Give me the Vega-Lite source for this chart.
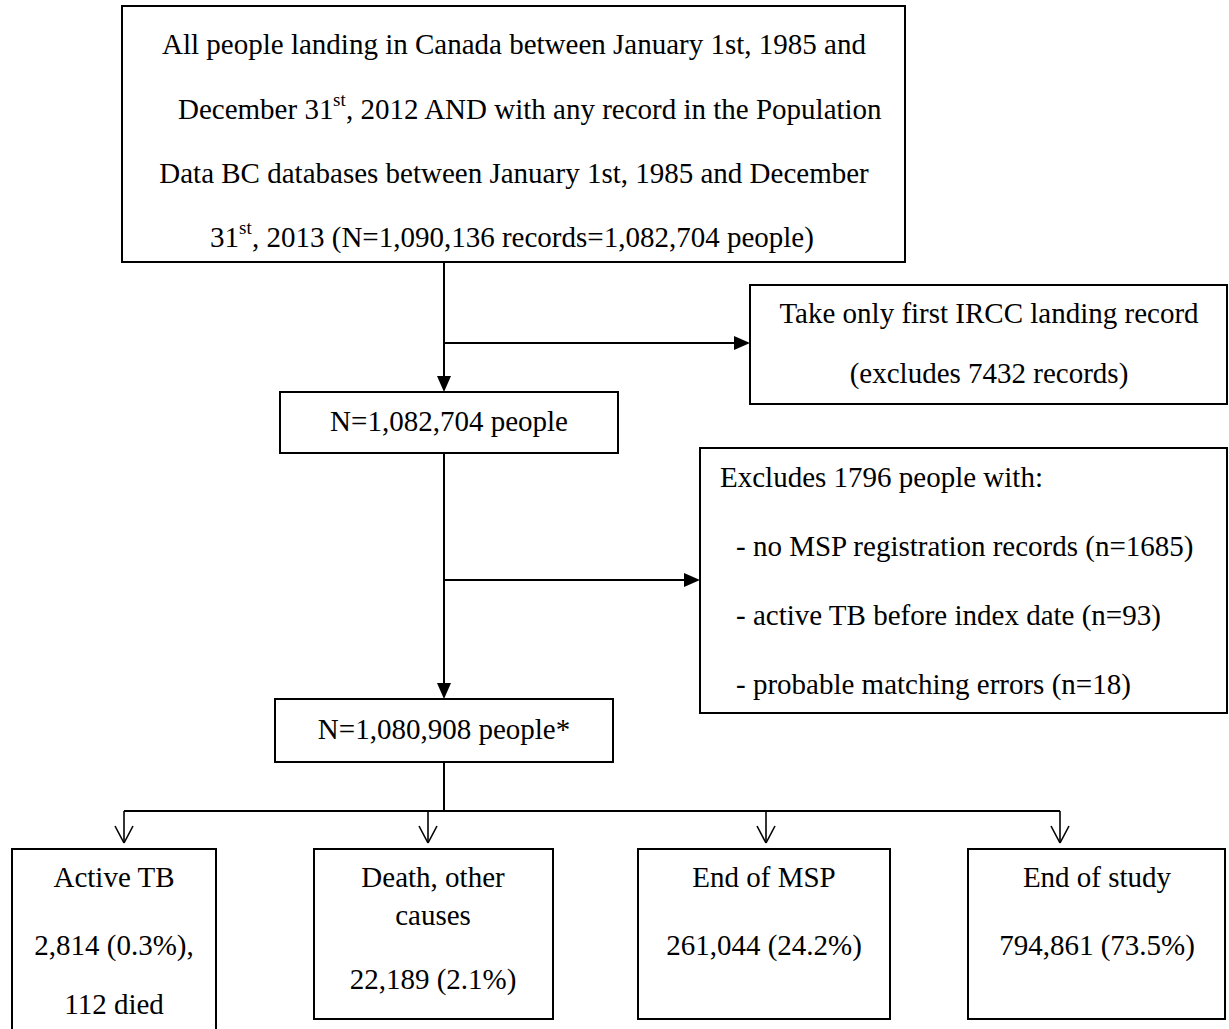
{
  "$schema": "https://vega.github.io/schema/vega-lite/v6.json",
  "width": 1229,
  "height": 1029,
  "autosize": "none",
  "padding": 0,
  "background": "white",
  "config": {"view": {"stroke": null}},
  "datasets": {
    "boxes": [
      {"x1": 122, "y1": 6, "x2": 905, "y2": 262},
      {"x1": 750, "y1": 285, "x2": 1227, "y2": 404},
      {"x1": 280, "y1": 392, "x2": 618, "y2": 453},
      {"x1": 700, "y1": 448, "x2": 1227, "y2": 713},
      {"x1": 275, "y1": 699, "x2": 613, "y2": 762},
      {"x1": 12, "y1": 849, "x2": 216, "y2": 1040},
      {"x1": 314, "y1": 849, "x2": 553, "y2": 1019},
      {"x1": 638, "y1": 849, "x2": 890, "y2": 1019},
      {"x1": 968, "y1": 849, "x2": 1225, "y2": 1019}
    ],
    "lines": [
      {"x1": 444, "y1": 262, "x2": 444, "y2": 380},
      {"x1": 444, "y1": 343, "x2": 738, "y2": 343},
      {"x1": 444, "y1": 453, "x2": 444, "y2": 687},
      {"x1": 444, "y1": 580, "x2": 688, "y2": 580},
      {"x1": 444, "y1": 762, "x2": 444, "y2": 811},
      {"x1": 124, "y1": 811, "x2": 1060, "y2": 811}
    ],
    "thin": [
      {"x1": 124, "y1": 811, "x2": 124, "y2": 843},
      {"x1": 428, "y1": 811, "x2": 428, "y2": 843},
      {"x1": 766, "y1": 811, "x2": 766, "y2": 843},
      {"x1": 1060, "y1": 811, "x2": 1060, "y2": 843},
      {"x1": 115, "y1": 826, "x2": 124, "y2": 843},
      {"x1": 133, "y1": 826, "x2": 124, "y2": 843},
      {"x1": 419, "y1": 826, "x2": 428, "y2": 843},
      {"x1": 437, "y1": 826, "x2": 428, "y2": 843},
      {"x1": 757, "y1": 826, "x2": 766, "y2": 843},
      {"x1": 775, "y1": 826, "x2": 766, "y2": 843},
      {"x1": 1051, "y1": 826, "x2": 1060, "y2": 843},
      {"x1": 1069, "y1": 826, "x2": 1060, "y2": 843}
    ],
    "headsDown": [
      {"x": 444, "y": 384},
      {"x": 444, "y": 691}
    ],
    "headsRight": [
      {"x": 742, "y": 343},
      {"x": 692, "y": 580}
    ],
    "textCenter": [
      {"x": 514, "y": 45, "t": "All people landing in Canada between January 1st, 1985 and"},
      {"x": 514, "y": 174, "t": "Data BC databases between January 1st, 1985 and December"},
      {"x": 989, "y": 314, "t": "Take only first IRCC landing record"},
      {"x": 989, "y": 374, "t": "(excludes 7432 records)"},
      {"x": 449, "y": 422, "t": "N=1,082,704 people"},
      {"x": 444, "y": 730, "t": "N=1,080,908 people*"},
      {"x": 114, "y": 878, "t": "Active TB"},
      {"x": 114, "y": 946, "t": "2,814 (0.3%),"},
      {"x": 114, "y": 1005, "t": "112 died"},
      {"x": 433, "y": 878, "t": "Death, other"},
      {"x": 433, "y": 916, "t": "causes"},
      {"x": 433, "y": 980, "t": "22,189 (2.1%)"},
      {"x": 764, "y": 878, "t": "End of MSP"},
      {"x": 764, "y": 946, "t": "261,044 (24.2%)"},
      {"x": 1097, "y": 878, "t": "End of study"},
      {"x": 1097, "y": 946, "t": "794,861 (73.5%)"}
    ],
    "textLeft": [
      {"x": 178, "y": 110, "t": "December 31"},
      {"x": 346, "y": 110, "t": ", 2012 AND with any record in the Population"},
      {"x": 210, "y": 238, "t": "31"},
      {"x": 252, "y": 238, "t": ", 2013 (N=1,090,136 records=1,082,704 people)"},
      {"x": 720, "y": 478, "t": "Excludes 1796 people with:"},
      {"x": 736, "y": 547, "t": "- no MSP registration records (n=1685)"},
      {"x": 736, "y": 616, "t": "- active TB before index date (n=93)"},
      {"x": 736, "y": 685, "t": "- probable matching errors (n=18)"}
    ],
    "sup": [
      {"x": 333, "y": 100, "t": "st"},
      {"x": 239, "y": 228, "t": "st"}
    ]
  },
  "layer": [
    {
      "data": {"name": "boxes"},
      "mark": {"type": "rect", "fill": "white", "stroke": "black", "strokeWidth": 2},
      "encoding": {
        "x": {"field": "x1", "type": "quantitative", "scale": {"domain": [0, 1229], "nice": false, "zero": false}, "axis": null},
        "x2": {"field": "x2"},
        "y": {"field": "y1", "type": "quantitative", "scale": {"domain": [0, 1029], "nice": false, "zero": false, "reverse": true}, "axis": null},
        "y2": {"field": "y2"}
      }
    },
    {
      "data": {"name": "lines"},
      "mark": {"type": "rule", "stroke": "black", "strokeWidth": 2},
      "encoding": {
        "x": {"field": "x1", "type": "quantitative"},
        "x2": {"field": "x2"},
        "y": {"field": "y1", "type": "quantitative"},
        "y2": {"field": "y2"}
      }
    },
    {
      "data": {"name": "thin"},
      "mark": {"type": "rule", "stroke": "black", "strokeWidth": 1.6},
      "encoding": {
        "x": {"field": "x1", "type": "quantitative"},
        "x2": {"field": "x2"},
        "y": {"field": "y1", "type": "quantitative"},
        "y2": {"field": "y2"}
      }
    },
    {
      "data": {"name": "headsDown"},
      "mark": {"type": "point", "shape": "M -0.875 -1 L 0.875 -1 L 0 1 Z", "size": 256, "filled": true, "color": "black", "opacity": 1, "strokeWidth": 0},
      "encoding": {
        "x": {"field": "x", "type": "quantitative"},
        "y": {"field": "y", "type": "quantitative"}
      }
    },
    {
      "data": {"name": "headsRight"},
      "mark": {"type": "point", "shape": "M -1 -0.875 L 1 0 L -1 0.875 Z", "size": 256, "filled": true, "color": "black", "opacity": 1, "strokeWidth": 0},
      "encoding": {
        "x": {"field": "x", "type": "quantitative"},
        "y": {"field": "y", "type": "quantitative"}
      }
    },
    {
      "data": {"name": "textCenter"},
      "mark": {"type": "text", "font": "Liberation Serif", "fontSize": 29, "align": "center", "baseline": "middle", "color": "black"},
      "encoding": {
        "x": {"field": "x", "type": "quantitative"},
        "y": {"field": "y", "type": "quantitative"},
        "text": {"field": "t"}
      }
    },
    {
      "data": {"name": "textLeft"},
      "mark": {"type": "text", "font": "Liberation Serif", "fontSize": 29, "align": "left", "baseline": "middle", "color": "black"},
      "encoding": {
        "x": {"field": "x", "type": "quantitative"},
        "y": {"field": "y", "type": "quantitative"},
        "text": {"field": "t"}
      }
    },
    {
      "data": {"name": "sup"},
      "mark": {"type": "text", "font": "Liberation Serif", "fontSize": 19, "align": "left", "baseline": "middle", "color": "black"},
      "encoding": {
        "x": {"field": "x", "type": "quantitative"},
        "y": {"field": "y", "type": "quantitative"},
        "text": {"field": "t"}
      }
    }
  ]
}
